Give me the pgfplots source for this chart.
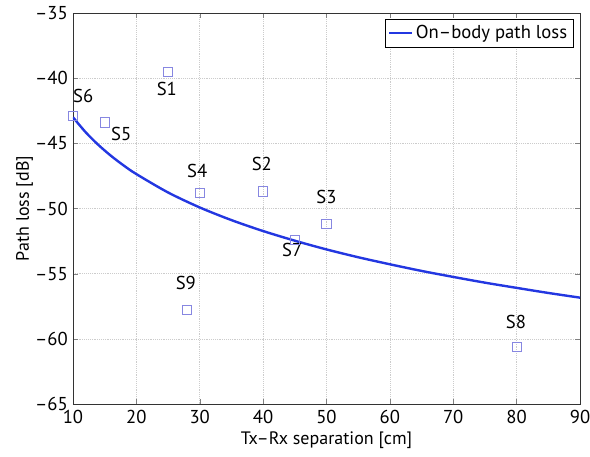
\documentclass[border=0pt]{standalone}
\usepackage{fontspec}
\setmainfont{PT Sans}
\usepackage{pgfplots}
\pgfplotsset{compat=1.18}
\definecolor{curveblue}{RGB}{35,55,225}
\definecolor{markblue}{RGB}{135,135,225}
\begin{document}
\fontsize{14}{16}\selectfont
\begin{tikzpicture}
\begin{axis}[
  scale only axis,
  width=380.25pt, height=293.25pt,
  xmin=10, xmax=90, ymin=-65, ymax=-35,
  xtick={10,20,...,90}, ytick={-65,-60,...,-35},
  yticklabels={--65,--60,--55,--50,--45,--40,--35},
  /pgf/number format/assume math mode=true,
  tick label style={font=\fontsize{14}{16}\selectfont},
  label style={font=\fontsize{13.5}{16}\selectfont},
  xticklabel style={yshift=0pt},
  yticklabel style={xshift=1pt},
  xlabel={Tx--Rx separation [cm]},
  ylabel={Path loss [dB]},
  xlabel style={yshift=4pt},
  ylabel style={yshift=-8pt},
  grid=major,
  major grid style={gray!40, densely dotted},
  tick align=inside,
  major tick length=4pt,
  axis line style={black!80},
  legend style={at={(0.987,0.985)}, anchor=north east, draw=black, font=\fontsize{14}{16}\selectfont, inner sep=2.5pt, legend cell align=left},
]
\addplot[curveblue, line width=1.8pt, smooth] coordinates {
(10,-43.00) (12,-44.15) (14,-45.12) (16,-45.96) (18,-46.70) (20,-47.36)
(25,-48.77) (30,-49.92) (35,-50.89) (40,-51.73) (45,-52.47) (50,-53.14)
(55,-53.74) (60,-54.28) (65,-54.79) (70,-55.25) (75,-55.69) (80,-56.09)
(85,-56.48) (90,-56.84)};
\addlegendentry{On--body path loss}
\addplot[only marks, mark=square, mark size=3.5pt, markblue, mark options={line width=0.6pt}, forget plot] coordinates {
(25,-39.5) (40,-48.7) (50,-51.2) (30,-48.8) (15,-43.4) (10,-42.9) (45,-52.4) (80,-60.6) (28,-57.8)};
\node at (axis cs:11.6,-41.4) {S6};
\node at (axis cs:24.8,-40.8) {S1};
\node at (axis cs:17.6,-44.3) {S5};
\node at (axis cs:29.6,-47.1) {S4};
\node at (axis cs:39.8,-46.6) {S2};
\node at (axis cs:50,-49.1) {S3};
\node at (axis cs:44.6,-53.2) {S7};
\node at (axis cs:27.8,-55.7) {S9};
\node at (axis cs:79.9,-58.7) {S8};
\end{axis}
\pgfresetboundingbox
\path[use as bounding box] (-54.75pt,-39.75pt) rectangle (387.75pt,303pt);
\end{tikzpicture}
\end{document}
